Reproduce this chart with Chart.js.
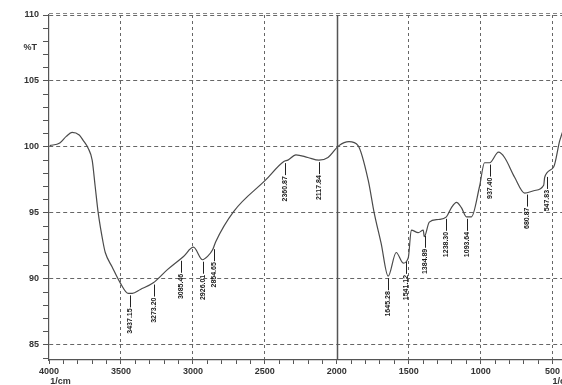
<!DOCTYPE html>
<html>
<head>
<meta charset="utf-8">
<script src="https://cdn.jsdelivr.net/npm/chart.js@4.4.0/dist/chart.umd.min.js"></script>
<style>
  html, body { margin: 0; padding: 0; background: #fff; overflow: hidden; }
  .box { width: 600px; height: 385px; }
</style>
</head>
<body>
<div class="box"><canvas id="ftir" width="600" height="385"></canvas></div>
<script>
// spectrum (1/cm vs %T)
const waveNumbers = [3995, 3925, 3880, 3840, 3790, 3763, 3728, 3700, 3679, 3658, 3623, 3609, 3561, 3505, 3449, 3421, 3365, 3275, 3177, 3065, 2996, 2933, 2898, 2863, 2842, 2717, 2494, 2368, 2340, 2284, 2201, 2124, 2061, 1985, 1915, 1852, 1782, 1740, 1692, 1643, 1587, 1538, 1503, 1482, 1434, 1399, 1392, 1357, 1294, 1238, 1203, 1168, 1134, 1099, 1064, 1008, 973, 938, 876, 834, 764, 694, 625, 562, 555, 492, 450, 400]
const transmittance = [100.1, 100.3, 100.8, 101.1, 100.9, 100.5, 99.9, 99.0, 97.0, 95.0, 92.7, 92.0, 90.9, 89.7, 88.9, 88.9, 89.2, 89.7, 90.7, 91.7, 92.4, 91.45, 91.7, 92.2, 92.8, 95.1, 97.5, 98.9, 99.0, 99.4, 99.2, 99.0, 99.2, 100.1, 100.4, 100.1, 97.5, 95.0, 92.7, 90.2, 92.0, 91.2, 91.6, 93.7, 93.5, 93.7, 93.2, 94.3, 94.5, 94.7, 95.4, 95.8, 95.4, 94.7, 94.7, 97.0, 98.8, 98.8, 99.6, 99.2, 97.7, 96.5, 96.7, 97.1, 97.7, 98.5, 100.5, 102.0]

// peak labels
const peakWn = [3437, 3273, 3085, 2933, 2856, 2361, 2124, 1643, 1517, 1385, 1238, 1093, 937, 680, 541]
const peakText = ['3437.15', '3273.20', '3085.46', '2926.01', '2854.65', '2360.87', '2117.84', '1645.28', '1541.12', '1384.89', '1238.30', '1093.64', '937.40', '680.87', '547.83']

const xTickLabels = [4000, 3500, 3000, 2500, 2000, 1500, 1000, 500]
const yTickLabels = [110, 105, 100, 95, 90, 85]

function curveAt(wn) {
  for (let i = 0; i < waveNumbers.length - 1; i++) {
    let a = waveNumbers[i], b = waveNumbers[i + 1]
    if (wn <= a && wn >= b) {
      let t = (a - wn) / (a - b)
      return transmittance[i] + (transmittance[i + 1] - transmittance[i]) * t
    }
  }
  return transmittance[transmittance.length - 1]
}

const points = waveNumbers.map((w, i) => ({x: w, y: transmittance[i]}))

const extras = {
  id: 'extras',
  beforeDatasetsDraw(chart) {
    const {ctx, chartArea, scales: {x}} = chart
    // solid line at 2000
    let px = Math.round(x.getPixelForValue(2000)) + 0.5
    ctx.save()
    ctx.strokeStyle = '#555'
    ctx.lineWidth = 1.5
    ctx.beginPath()
    ctx.moveTo(px, chartArea.top)
    ctx.lineTo(px, chartArea.bottom)
    ctx.stroke()
    // double top border
    ctx.setLineDash([4, 3])
    ctx.lineWidth = 1
    ctx.strokeStyle = '#888'
    ctx.beginPath()
    ctx.moveTo(chartArea.left, chartArea.top - 1.5)
    ctx.lineTo(chartArea.right, chartArea.top - 1.5)
    ctx.stroke()
    ctx.restore()
  },
  afterDatasetsDraw(chart) {
    const {ctx, scales: {x, y}} = chart
    ctx.save()
    ctx.strokeStyle = '#222'
    ctx.fillStyle = '#1a1a1a'
    ctx.lineWidth = 1
    ctx.font = 'bold 7px "Liberation Sans", Arial, sans-serif'
    peakWn.forEach((wn, i) => {
      let px = Math.round(x.getPixelForValue(wn)) + 0.5
      let top = y.getPixelForValue(curveAt(wn)) + 2
      ctx.beginPath()
      ctx.moveTo(px, top)
      ctx.lineTo(px, top + 12)
      ctx.stroke()
      ctx.save()
      ctx.translate(px, top + 13)
      ctx.rotate(-Math.PI / 2)
      ctx.textAlign = 'right'
      ctx.textBaseline = 'middle'
      ctx.fillText(peakText[i], 0, 0)
      ctx.restore()
    })
    ctx.restore()
  },
  afterDraw(chart) {
    const {ctx, chartArea, scales: {x, y}} = chart
    ctx.save()
    ctx.fillStyle = '#333'
    ctx.font = 'bold 9px "Liberation Sans", Arial, sans-serif'
    ctx.textAlign = 'right'
    ctx.textBaseline = 'middle'
    ctx.fillText('%T', 37, y.getPixelForValue(107.5))
    ctx.textAlign = 'center'
    ctx.textBaseline = 'top'
    ctx.fillText('1/cm', x.getPixelForValue(3920), chartArea.bottom + 17)
    ctx.fillText('1/cm', x.getPixelForValue(430), chartArea.bottom + 17)
    ctx.restore()
  }
}

new Chart(document.getElementById('ftir'), {
  type: 'line',
  data: {
    datasets: [{
      data: points,
      borderColor: '#4a4a4a',
      borderWidth: 1.2,
      pointRadius: 0,
      fill: false,
      cubicInterpolationMode: 'monotone'
    }]
  },
  options: {
    responsive: false,
    animation: false,
    layout: {padding: {top: 15, right: 33, left: 0, bottom: 0}},
    plugins: {legend: {display: false}, tooltip: {enabled: false}},
    scales: {
      x: {
        type: 'linear',
        reverse: true,
        min: 400,
        max: 4000,
        afterBuildTicks: s => {
          let t = []
          for (let v = 4000; v >= 400; v -= 100) t.push({value: v})
          s.ticks = t
        },
        afterFit: s => { s.height = 25 },
        ticks: {
          autoSkip: false,
          maxRotation: 0,
          padding: 2,
          color: '#333',
          font: {size: 9, weight: 'bold', family: '"Liberation Sans", Arial, sans-serif'},
          callback: v => xTickLabels.includes(v) ? String(v) : ''
        },
        grid: {
          color: c => (c.tick && c.tick.value % 500 === 0 && c.tick.value !== 4000 && c.tick.value !== 2000) ? '#666' : 'rgba(0,0,0,0)',
          tickColor: '#555',
          tickLength: 4,
          lineWidth: 1
        },
        border: {display: true, color: '#555', width: 1.2, dash: [3, 3]}
      },
      y: {
        min: 83.85,
        max: 110,
        afterBuildTicks: s => {
          let t = []
          for (let v = 84; v <= 110; v++) t.push({value: v})
          s.ticks = t
        },
        afterFit: s => { s.width = 49 },
        ticks: {
          autoSkip: false,
          padding: 4,
          color: '#333',
          font: {size: 9, weight: 'bold', family: '"Liberation Sans", Arial, sans-serif'},
          callback: v => yTickLabels.includes(v) ? String(v) : ''
        },
        grid: {
          color: c => (c.tick && c.tick.value % 5 === 0) ? '#666' : 'rgba(0,0,0,0)',
          tickColor: '#555',
          tickLength: 6,
          lineWidth: 1
        },
        border: {display: true, color: '#555', width: 1.2, dash: [4, 3]}
      }
    }
  },
  plugins: [extras]
})
</script>
</body>
</html>
